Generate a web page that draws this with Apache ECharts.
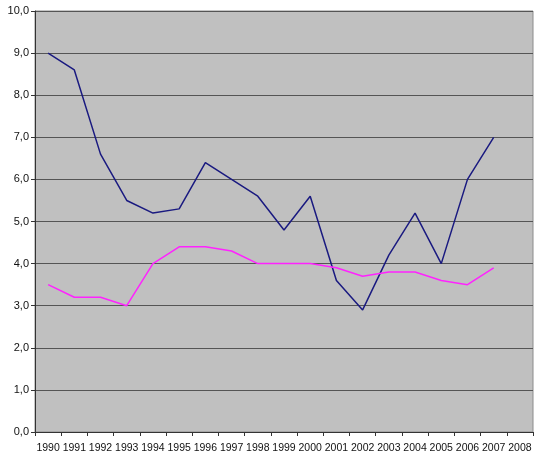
<!DOCTYPE html>
<html>
<head>
<meta charset="utf-8">
<script src="https://cdn.jsdelivr.net/npm/echarts@6/dist/echarts.min.js"></script>
<style>
  html, body { margin: 0; padding: 0; background: #fff; }
  #chart { width: 540px; height: 460px; }
</style>
</head>
<body>
<div id="chart"></div>
<script>
var years = ['1990','1991','1992','1993','1994','1995','1996','1997','1998','1999',
             '2000','2001','2002','2003','2004','2005','2006','2007','2008'];
var navySeries = [9.0, 8.6, 6.6, 5.5, 5.2, 5.3, 6.4, 6.0, 5.6, 4.8, 5.6, 3.6, 2.9, 4.2, 5.2, 4.0, 6.0, 7.0];
var pinkSeries = [3.5, 3.2, 3.2, 3.0, 4.0, 4.4, 4.4, 4.3, 4.0, 4.0, 4.0, 3.9, 3.7, 3.8, 3.8, 3.6, 3.5, 3.9];

var chart = echarts.init(document.getElementById('chart'));

// axis text is 1 decimal with a comma, like the original
function fmt(v) {
    return v.toFixed(1).replace('.', ',');
}

chart.setOption({
    animation: false,
    textStyle: { fontFamily: 'Liberation Sans, Arial, sans-serif' },
    grid: {
        left: 35, right: 7, top: 11, bottom: 28,
        show: true,
        backgroundColor: '#c0c0c0',
        borderColor: '#8c8c8c',
        borderWidth: 1
    },
    xAxis: {
        type: 'category',
        data: years,
        boundaryGap: true,
        axisLine: { lineStyle: { color: '#333', width: 1 } },
        axisTick: { show: true, alignWithLabel: false, length: 4, lineStyle: { color: '#333' } },
        axisLabel: { color: '#111', fontSize: 10.5, margin: 11, interval: 0 },
        splitLine: { show: false }
    },
    yAxis: {
        type: 'value',
        min: 0, max: 10, interval: 1,
        axisLine: { show: true, lineStyle: { color: '#333', width: 1 } },
        axisTick: { show: true, length: 4, lineStyle: { color: '#333' } },
        axisLabel: { color: '#111', fontSize: 11, margin: 6, formatter: fmt },
        splitLine: { show: true, lineStyle: { color: '#555', width: 1 } }
    },
    series: [
        {
            type: 'line',
            data: navySeries,
            symbol: 'none',
            lineStyle: { color: '#1a1a80', width: 1.5 }
        },
        {
            type: 'line',
            data: pinkSeries,
            symbol: 'none',
            lineStyle: { color: '#ff22ff', width: 1.5 }
        }
    ]
});
</script>
</body>
</html>
